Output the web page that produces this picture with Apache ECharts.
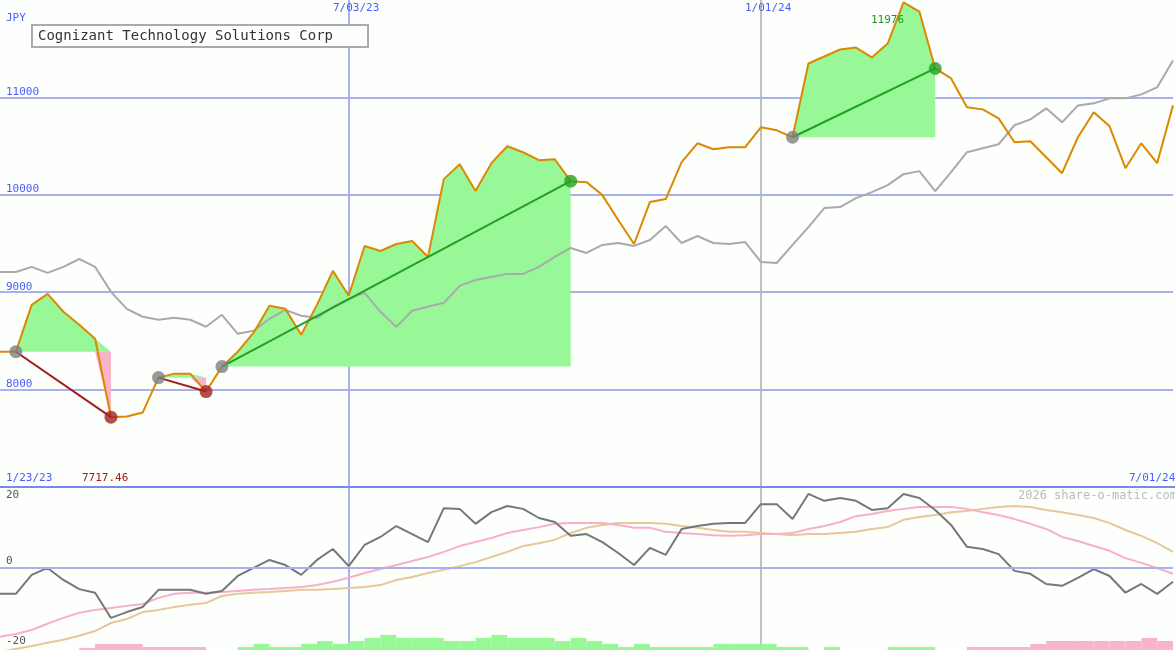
<!DOCTYPE html>
<html><head><meta charset="utf-8">
<script src="https://cdn.jsdelivr.net/npm/echarts@6/dist/echarts.min.js"></script>
<style>html,body{margin:0;padding:0;background:#fcfffc}#c{width:1175px;height:650px}</style>
</head><body><div id="c"></div>
<script>
// weekly points, index 22 = 7/03/23, index 48 = 1/01/24
const weeks = Array.from({length:75},(_,i)=>{const d=new Date(Date.UTC(2023,0,30)+i*7*864e5);return (d.getUTCMonth()+1)+'/'+String(d.getUTCDate()).padStart(2,'0')+'/'+String(d.getUTCFullYear()).slice(2);});
const price = [8389,8389,8870,8983,8799,8666,8522,7717,7724,7764,8123,8164,8164,7980,8236,8389,8584,8860,8829,8563,8870,9219,8963,9475,9423,9495,9526,9362,10161,10314,10038,10325,10499,10437,10355,10365,10140,10130,9997,9741,9495,9925,9956,10335,10529,10468,10488,10488,10693,10662,10591,11348,11420,11492,11512,11410,11553,11976,11881,11297,11195,10898,10877,10785,10540,10550,10386,10222,10591,10847,10703,10273,10529,10325,10918];
const compare = [9208,9208,9260,9198,9260,9341,9260,9004,8829,8748,8717,8737,8717,8645,8768,8573,8604,8727,8819,8758,8737,8850,8932,8993,8799,8645,8809,8850,8891,9065,9126,9157,9188,9188,9260,9362,9454,9403,9485,9505,9475,9536,9679,9505,9577,9505,9495,9516,9311,9300,9485,9669,9864,9874,9966,10028,10099,10212,10243,10038,10232,10437,10478,10519,10714,10775,10888,10744,10918,10939,10990,10990,11031,11103,11379];
const momentum = [-7.1,-7.1,-1.9,0,-3.3,-5.8,-6.8,-13.7,-12.1,-10.7,-6.0,-6.0,-6.0,-7.1,-6.3,-2.2,0,2.2,0.8,-1.9,2.2,5.2,0.5,6.3,8.5,11.5,9.3,7.1,16.4,16.2,12.1,15.3,17.0,16.2,13.7,12.6,8.8,9.3,7.1,4.1,0.8,5.5,3.6,10.7,11.5,12.1,12.3,12.3,17.5,17.5,13.4,20.3,18.4,19.2,18.4,15.9,16.4,20.3,19.2,15.9,11.8,5.8,5.2,3.8,-0.8,-1.6,-4.4,-4.9,-2.7,-0.3,-2.2,-6.8,-4.4,-7.1,-3.8];
const signalPink = [-18.9,-18.1,-17.0,-15.3,-13.7,-12.3,-11.5,-11.0,-10.4,-9.9,-8.2,-7.1,-6.8,-6.8,-6.6,-6.3,-6.0,-5.8,-5.5,-5.2,-4.7,-3.8,-2.7,-1.4,-0.3,0.8,1.9,3.0,4.4,6.0,7.1,8.2,9.6,10.4,11.2,12.1,12.3,12.3,12.3,11.8,11.0,11.0,9.9,9.6,9.3,9.0,8.8,9.0,9.3,9.3,9.6,10.7,11.5,12.6,14.2,14.8,15.6,16.2,16.7,16.7,16.7,16.2,15.3,14.5,13.4,12.1,10.7,8.5,7.4,6.0,4.7,2.7,1.4,0,-1.6];
const signalTan = [-23,-22.2,-21.4,-20.5,-19.7,-18.6,-17.3,-15.1,-14.0,-12.1,-11.5,-10.7,-10.1,-9.6,-7.7,-7.1,-6.8,-6.6,-6.3,-6.0,-6.0,-5.8,-5.5,-5.2,-4.7,-3.3,-2.5,-1.4,-0.5,0.5,1.6,3.0,4.4,6.0,6.8,7.7,9.6,11.0,11.8,12.3,12.3,12.3,12.1,11.5,11.0,10.4,9.9,9.9,9.6,9.3,9.0,9.3,9.3,9.6,9.9,10.7,11.2,13.2,14.0,14.5,15.3,15.6,16.2,16.7,17.0,16.7,15.9,15.3,14.5,13.7,12.3,10.4,8.8,6.8,4.4];
const hist = [0,0,0,0,0,-0.7,-2,-2,-2,-1,-1,-1,-1,0,0,1,2,1,1,2,3,2,3,4,5,4,4,4,3,3,4,5,4,4,4,3,4,3,2,1,2,1,1,1,1,2,2,2,2,1,1,0,1,0,0,0,1,1,1,0,0,-1,-1,-1,-1,-2,-3,-3,-3,-3,-3,-3,-4,-3,-3];
const tradeStart = [1,10,14,50];
const tradeEnd = [7,13,36,59];
const priceTicks = [8000,9000,10000,11000];
const yTicksLower = [20,0,-20];

const FONT = 'DejaVu Sans Mono';
const chart = echarts.init(document.getElementById('c'));
const tradeLines = tradeStart.map((s,k)=>{
  const e = tradeEnd[k];
  const win = price[e] > price[s];
  return {type:'line',xAxisIndex:0,yAxisIndex:0,connectNulls:true,symbol:'none',z:4,silent:true,
    lineStyle:{color:win?'#22a022':'#a01c1c',width:2},
    data:price.map((v,i)=>(i===s||i===e)?v:null)};
});
const markers = [];
tradeStart.forEach((s,k)=>{const e=tradeEnd[k];const win=price[e]>price[s];
  markers.push({value:[s,price[s]],itemStyle:{color:'#808080'}});
  markers.push({value:[e,price[e]],itemStyle:{color:win?'#22a022':'#a82020'}});
});
const fills = tradeStart.map((s,k)=>[s,tradeEnd[k],price[s]]);
const vline = (i)=>i===22||i===48;

chart.setOption({
  backgroundColor:'#fcfffc',
  animation:false,
  grid:[{left:0,right:2,top:0,height:487},{left:0,right:2,top:487,height:163}],
  xAxis:[
    {type:'category',gridIndex:0,data:weeks,boundaryGap:false,axisLine:{show:false},axisTick:{show:false},axisLabel:{show:false},
     splitLine:{show:true,interval:vline,lineStyle:{color:['#a8b0f0','#c0c0c0'],width:2}}},
    {type:'category',gridIndex:1,data:weeks,boundaryGap:false,axisLine:{show:false},axisTick:{show:false},axisLabel:{show:false},
     splitLine:{show:true,interval:vline,lineStyle:{color:['#a8b0f0','#c0c0c0'],width:2}}}
  ],
  yAxis:[
    {type:'value',gridIndex:0,min:7000,max:12000,interval:1000,axisLine:{show:false},axisTick:{show:false},
     axisLabel:{inside:true,showMinLabel:false,showMaxLabel:false,verticalAlign:'bottom',margin:6,color:'#4a5cff',fontFamily:FONT,fontSize:11,formatter:(v)=>String(v)},
     splitLine:{show:false}},
    {type:'value',gridIndex:1,min:-22.5,max:22.2,axisLine:{show:false},axisTick:{show:false},axisLabel:{show:false},splitLine:{show:false}},
    {type:'value',gridIndex:1,min:0,max:54,axisLine:{show:false},axisTick:{show:false},axisLabel:{show:false},splitLine:{show:false}}
  ],
  series:[
    {type:'custom',xAxisIndex:0,yAxisIndex:0,z:1,silent:true,clip:true,data:fills,
     renderItem:(params,api)=>{
       const s=api.value(0),e=api.value(1),b=api.value(2);
       const up=[api.coord([s,b])],dn=[api.coord([s,b])];
       for(let i=s;i<=e;i++){up.push(api.coord([i,Math.max(price[i],b)]));dn.push(api.coord([i,Math.min(price[i],b)]));}
       up.push(api.coord([e,b]));dn.push(api.coord([e,b]));
       return {type:'group',children:[
         {type:'polygon',shape:{points:up},style:{fill:'#98f898'}},
         {type:'polygon',shape:{points:dn},style:{fill:'#f8b4c8'}}]};
     }},
    {type:'line',xAxisIndex:0,yAxisIndex:0,data:compare,symbol:'none',z:3,lineStyle:{color:'#aaaaaa',width:2},
     markLine:{silent:true,symbol:'none',label:{show:false},lineStyle:{color:'#a8b0f0',width:2,type:'solid'},z:0,data:priceTicks.map(v=>({yAxis:v}))}},
    {type:'line',xAxisIndex:0,yAxisIndex:0,data:price,symbol:'none',z:3,lineStyle:{color:'#dd8800',width:2}},
    ...tradeLines,
    {type:'scatter',xAxisIndex:0,yAxisIndex:0,symbolSize:13,z:5,data:markers},
    {type:'custom',xAxisIndex:1,yAxisIndex:2,z:1,silent:true,clip:true,data:hist.map((v,i)=>[i,v]),
     renderItem:(params,api)=>{
       const i=api.value(0),v=api.value(1);
       if(!v) return null;
       const p0=api.coord([i,0]);const p1=api.coord([Math.min(i+1,74),Math.abs(v)]);
       const x1 = i+1>74 ? p0[0]+16 : p1[0];
       return {type:'rect',shape:{x:p0[0],y:p1[1],width:x1-p0[0],height:p0[1]-p1[1]},style:{fill:v>0?'#98f898':'#f8b4c8'}};
     }},
    {type:'line',xAxisIndex:1,yAxisIndex:1,data:signalTan,symbol:'none',z:3,lineStyle:{color:'#e6c89a',width:2},
     markLine:{silent:true,symbol:'none',label:{show:false},lineStyle:{color:'#a8b0f0',width:2,type:'solid'},data:[{yAxis:0}]}},
    {type:'line',xAxisIndex:1,yAxisIndex:1,data:signalPink,symbol:'none',z:3,lineStyle:{color:'#f8b0c8',width:2}},
    {type:'line',xAxisIndex:1,yAxisIndex:1,data:momentum,symbol:'none',z:4,lineStyle:{color:'#777777',width:2}}
  ],
  graphic:[
    {type:'line',shape:{x1:0,y1:487,x2:1175,y2:487},style:{stroke:'#7a88ee',lineWidth:2},z:10},
    {type:'rect',shape:{x:32,y:25,width:336,height:22},style:{fill:'#fcfffc',stroke:'#aaaaaa',lineWidth:2},z:10},
    {type:'text',x:38,y:29,style:{text:'Cognizant Technology Solutions Corp',font:'14px "DejaVu Sans Mono"',fill:'#333333'},z:11},
    {type:'text',x:6,y:13,style:{text:'JPY',font:'11px "DejaVu Sans Mono"',fill:'#4a5cff'},z:11},
    {type:'text',x:333,y:3,style:{text:'7/03/23',font:'11px "DejaVu Sans Mono"',fill:'#4a5cff'},z:11},
    {type:'text',x:745,y:3,style:{text:'1/01/24',font:'11px "DejaVu Sans Mono"',fill:'#4a5cff'},z:11},
    {type:'text',x:6,y:473,style:{text:'1/23/23',font:'11px "DejaVu Sans Mono"',fill:'#4a5cff'},z:11},
    {type:'text',x:1129,y:473,style:{text:'7/01/24',font:'11px "DejaVu Sans Mono"',fill:'#4a5cff'},z:11},
    {type:'text',x:82,y:473,style:{text:'7717.46',font:'11px "DejaVu Sans Mono"',fill:'#a01c1c'},z:11},
    {type:'text',x:871,y:15,style:{text:'11976',font:'11px "DejaVu Sans Mono"',fill:'#229922'},z:11},
    {type:'text',x:1018,y:490,style:{text:'2026 share-o-matic.com',font:'12px "DejaVu Sans Mono"',fill:'#bbbbbb'},z:11},
    {type:'text',x:6,y:490,style:{text:String(yTicksLower[0]),font:'11px "DejaVu Sans Mono"',fill:'#555555'},z:11},
    {type:'text',x:6,y:556,style:{text:String(yTicksLower[1]),font:'11px "DejaVu Sans Mono"',fill:'#555555'},z:11},
    {type:'text',x:6,y:636,style:{text:String(yTicksLower[2]),font:'11px "DejaVu Sans Mono"',fill:'#555555'},z:11}
  ]
});
</script></body></html>
